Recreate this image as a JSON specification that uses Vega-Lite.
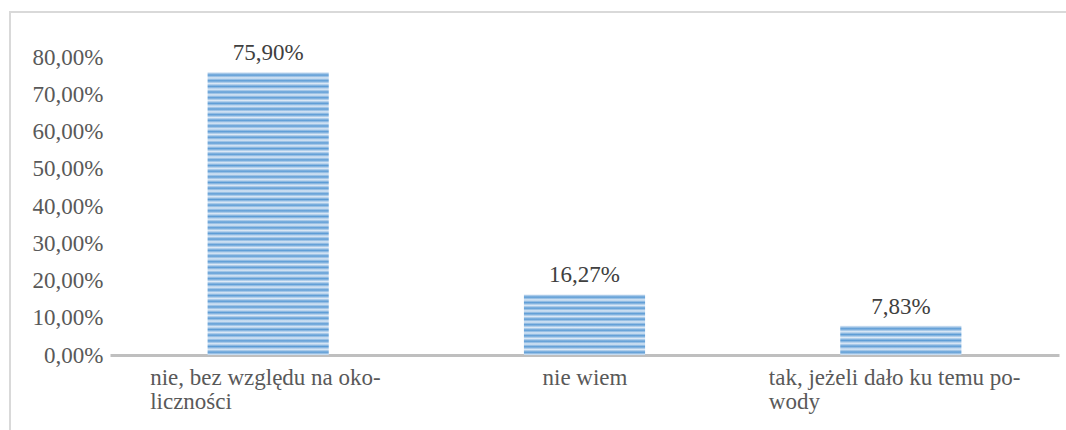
{
  "$schema": "https://vega.github.io/schema/vega-lite/v6.json",
  "autosize": "none",
  "width": 1056,
  "height": 418,
  "padding": {"left": 10, "top": 12, "right": 0, "bottom": 0},
  "background": "white",
  "config": {
    "locale": {"number": {"decimal": ",", "thousands": " ", "grouping": [3], "currency": ["", " zł"]}},
    "view": {"stroke": "#d9d9d9", "strokeWidth": 2, "strokeDash": [1056, 1474, 420, 10]},
    "font": "Liberation Serif"
  },
  "data": {
    "values": [
      {"odp": "nie, bez względu na okoliczności", "v": 0.759},
      {"odp": "nie wiem", "v": 0.1627},
      {"odp": "tak, jeżeli dało ku temu powody", "v": 0.0783}
    ]
  },
  "encoding": {
    "x": {
      "field": "odp",
      "type": "nominal",
      "sort": null,
      "scale": {
        "domain": ["nie, bez względu na okoliczności", "nie wiem", "tak, jeżeli dało ku temu powody"],
        "range": [100, 1049],
        "paddingInner": 0.617,
        "paddingOuter": 0.3085
      },
      "axis": {
        "title": null,
        "orient": "bottom",
        "offset": -75,
        "domainColor": "#bfbfbf",
        "domainWidth": 3,
        "ticks": false,
        "tickSize": 0,
        "labelAngle": 0,
        "labelPadding": 11,
        "labelFont": "Liberation Serif",
        "labelFontSize": 23,
        "labelColor": "#595959",
        "labelLineHeight": 24,
        "labelAlign": "left",
        "labelBaseline": "top",
        "labelLimit": 0,
        "labelOffset": {
          "condition": [
            {"test": "datum.value === 'nie wiem'", "value": -42},
            {"test": "datum.value === 'tak, jeżeli dało ku temu powody'", "value": -132}
          ],
          "value": -118
        },
        "labelExpr": "datum.value === 'nie, bez względu na okoliczności' ? ['nie, bez względu na oko-', 'liczności'] : datum.value === 'tak, jeżeli dało ku temu powody' ? ['tak, jeżeli dało ku temu po-', 'wody'] : datum.value"
      }
    },
    "y": {
      "field": "v",
      "type": "quantitative",
      "scale": {"domain": [0, 0.8], "range": [343, 45], "nice": false, "zero": true},
      "axis": {
        "title": null,
        "orient": "left",
        "offset": -93,
        "domain": false,
        "ticks": false,
        "tickSize": 0,
        "grid": false,
        "labelPadding": 0,
        "values": [0, 0.1, 0.2, 0.3, 0.4, 0.5, 0.6, 0.7, 0.8],
        "format": ".2%",
        "labelFont": "Liberation Serif",
        "labelFontSize": 23,
        "labelColor": "#595959"
      }
    }
  },
  "layer": [
    {
      "transform": [{"filter": "datum.odp === 'nie, bez względu na okoliczności'"}],
      "mark": {
        "type": "bar",
        "fill": {
          "gradient": "linear", "x1": 0, "y1": 0, "x2": 0, "y2": 1,
          "stops": [
            {"offset": 0, "color": "#dde9f6"}, {"offset": 0.01, "color": "#5b9bd5"},
            {"offset": 0.02, "color": "#dde9f6"}, {"offset": 0.03, "color": "#5b9bd5"},
            {"offset": 0.04, "color": "#dde9f6"}, {"offset": 0.05, "color": "#5b9bd5"},
            {"offset": 0.06, "color": "#dde9f6"}, {"offset": 0.07, "color": "#5b9bd5"},
            {"offset": 0.08, "color": "#dde9f6"}, {"offset": 0.09, "color": "#5b9bd5"},
            {"offset": 0.10, "color": "#dde9f6"}, {"offset": 0.11, "color": "#5b9bd5"},
            {"offset": 0.12, "color": "#dde9f6"}, {"offset": 0.13, "color": "#5b9bd5"},
            {"offset": 0.14, "color": "#dde9f6"}, {"offset": 0.15, "color": "#5b9bd5"},
            {"offset": 0.16, "color": "#dde9f6"}, {"offset": 0.17, "color": "#5b9bd5"},
            {"offset": 0.18, "color": "#dde9f6"}, {"offset": 0.19, "color": "#5b9bd5"},
            {"offset": 0.20, "color": "#dde9f6"}, {"offset": 0.21, "color": "#5b9bd5"},
            {"offset": 0.22, "color": "#dde9f6"}, {"offset": 0.23, "color": "#5b9bd5"},
            {"offset": 0.24, "color": "#dde9f6"}, {"offset": 0.25, "color": "#5b9bd5"},
            {"offset": 0.26, "color": "#dde9f6"}, {"offset": 0.27, "color": "#5b9bd5"},
            {"offset": 0.28, "color": "#dde9f6"}, {"offset": 0.29, "color": "#5b9bd5"},
            {"offset": 0.30, "color": "#dde9f6"}, {"offset": 0.31, "color": "#5b9bd5"},
            {"offset": 0.32, "color": "#dde9f6"}, {"offset": 0.33, "color": "#5b9bd5"},
            {"offset": 0.34, "color": "#dde9f6"}, {"offset": 0.35, "color": "#5b9bd5"},
            {"offset": 0.36, "color": "#dde9f6"}, {"offset": 0.37, "color": "#5b9bd5"},
            {"offset": 0.38, "color": "#dde9f6"}, {"offset": 0.39, "color": "#5b9bd5"},
            {"offset": 0.40, "color": "#dde9f6"}, {"offset": 0.41, "color": "#5b9bd5"},
            {"offset": 0.42, "color": "#dde9f6"}, {"offset": 0.43, "color": "#5b9bd5"},
            {"offset": 0.44, "color": "#dde9f6"}, {"offset": 0.45, "color": "#5b9bd5"},
            {"offset": 0.46, "color": "#dde9f6"}, {"offset": 0.47, "color": "#5b9bd5"},
            {"offset": 0.48, "color": "#dde9f6"}, {"offset": 0.49, "color": "#5b9bd5"},
            {"offset": 0.50, "color": "#dde9f6"}, {"offset": 0.51, "color": "#5b9bd5"},
            {"offset": 0.52, "color": "#dde9f6"}, {"offset": 0.53, "color": "#5b9bd5"},
            {"offset": 0.54, "color": "#dde9f6"}, {"offset": 0.55, "color": "#5b9bd5"},
            {"offset": 0.56, "color": "#dde9f6"}, {"offset": 0.57, "color": "#5b9bd5"},
            {"offset": 0.58, "color": "#dde9f6"}, {"offset": 0.59, "color": "#5b9bd5"},
            {"offset": 0.60, "color": "#dde9f6"}, {"offset": 0.61, "color": "#5b9bd5"},
            {"offset": 0.62, "color": "#dde9f6"}, {"offset": 0.63, "color": "#5b9bd5"},
            {"offset": 0.64, "color": "#dde9f6"}, {"offset": 0.65, "color": "#5b9bd5"},
            {"offset": 0.66, "color": "#dde9f6"}, {"offset": 0.67, "color": "#5b9bd5"},
            {"offset": 0.68, "color": "#dde9f6"}, {"offset": 0.69, "color": "#5b9bd5"},
            {"offset": 0.70, "color": "#dde9f6"}, {"offset": 0.71, "color": "#5b9bd5"},
            {"offset": 0.72, "color": "#dde9f6"}, {"offset": 0.73, "color": "#5b9bd5"},
            {"offset": 0.74, "color": "#dde9f6"}, {"offset": 0.75, "color": "#5b9bd5"},
            {"offset": 0.76, "color": "#dde9f6"}, {"offset": 0.77, "color": "#5b9bd5"},
            {"offset": 0.78, "color": "#dde9f6"}, {"offset": 0.79, "color": "#5b9bd5"},
            {"offset": 0.80, "color": "#dde9f6"}, {"offset": 0.81, "color": "#5b9bd5"},
            {"offset": 0.82, "color": "#dde9f6"}, {"offset": 0.83, "color": "#5b9bd5"},
            {"offset": 0.84, "color": "#dde9f6"}, {"offset": 0.85, "color": "#5b9bd5"},
            {"offset": 0.86, "color": "#dde9f6"}, {"offset": 0.87, "color": "#5b9bd5"},
            {"offset": 0.88, "color": "#dde9f6"}, {"offset": 0.89, "color": "#5b9bd5"},
            {"offset": 0.90, "color": "#dde9f6"}, {"offset": 0.91, "color": "#5b9bd5"},
            {"offset": 0.92, "color": "#dde9f6"}, {"offset": 0.93, "color": "#5b9bd5"},
            {"offset": 0.94, "color": "#dde9f6"}, {"offset": 0.95, "color": "#5b9bd5"},
            {"offset": 0.96, "color": "#dde9f6"}, {"offset": 0.97, "color": "#5b9bd5"},
            {"offset": 0.98, "color": "#dde9f6"}, {"offset": 0.99, "color": "#5b9bd5"},
            {"offset": 1, "color": "#dde9f6"}
          ]
        }
      }
    },
    {
      "transform": [{"filter": "datum.odp === 'nie wiem'"}],
      "mark": {
        "type": "bar",
        "fill": {
          "gradient": "linear", "x1": 0, "y1": 0, "x2": 0, "y2": 1,
          "stops": [
            {"offset": 0, "color": "#dde9f6"}, {"offset": 0.04545, "color": "#5b9bd5"},
            {"offset": 0.09091, "color": "#dde9f6"}, {"offset": 0.13636, "color": "#5b9bd5"},
            {"offset": 0.18182, "color": "#dde9f6"}, {"offset": 0.22727, "color": "#5b9bd5"},
            {"offset": 0.27273, "color": "#dde9f6"}, {"offset": 0.31818, "color": "#5b9bd5"},
            {"offset": 0.36364, "color": "#dde9f6"}, {"offset": 0.40909, "color": "#5b9bd5"},
            {"offset": 0.45455, "color": "#dde9f6"}, {"offset": 0.5, "color": "#5b9bd5"},
            {"offset": 0.54545, "color": "#dde9f6"}, {"offset": 0.59091, "color": "#5b9bd5"},
            {"offset": 0.63636, "color": "#dde9f6"}, {"offset": 0.68182, "color": "#5b9bd5"},
            {"offset": 0.72727, "color": "#dde9f6"}, {"offset": 0.77273, "color": "#5b9bd5"},
            {"offset": 0.81818, "color": "#dde9f6"}, {"offset": 0.86364, "color": "#5b9bd5"},
            {"offset": 0.90909, "color": "#dde9f6"}, {"offset": 0.95455, "color": "#5b9bd5"},
            {"offset": 1, "color": "#dde9f6"}
          ]
        }
      }
    },
    {
      "transform": [{"filter": "datum.odp === 'tak, jeżeli dało ku temu powody'"}],
      "mark": {
        "type": "bar",
        "fill": {
          "gradient": "linear", "x1": 0, "y1": 0, "x2": 0, "y2": 1,
          "stops": [
            {"offset": 0, "color": "#dde9f6"}, {"offset": 0.1, "color": "#5b9bd5"},
            {"offset": 0.2, "color": "#dde9f6"}, {"offset": 0.3, "color": "#5b9bd5"},
            {"offset": 0.4, "color": "#dde9f6"}, {"offset": 0.5, "color": "#5b9bd5"},
            {"offset": 0.6, "color": "#dde9f6"}, {"offset": 0.7, "color": "#5b9bd5"},
            {"offset": 0.8, "color": "#dde9f6"}, {"offset": 0.9, "color": "#5b9bd5"},
            {"offset": 1, "color": "#dde9f6"}
          ]
        }
      }
    },
    {
      "mark": {
        "type": "text",
        "font": "Liberation Serif",
        "fontSize": 23,
        "color": "#404040",
        "baseline": "alphabetic",
        "align": "center",
        "dy": -12
      },
      "encoding": {
        "text": {"field": "v", "type": "quantitative", "format": ".2%"}
      }
    }
  ]
}
